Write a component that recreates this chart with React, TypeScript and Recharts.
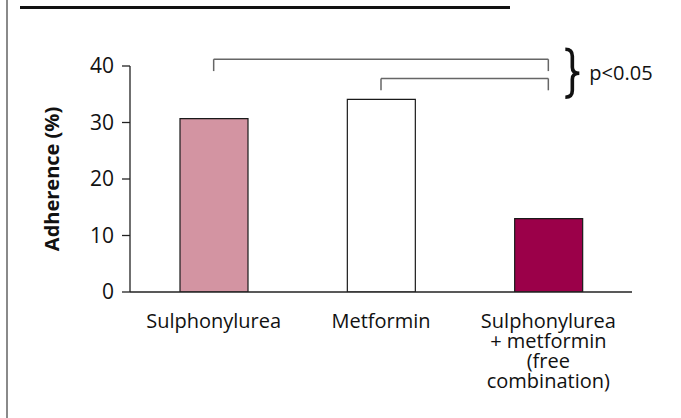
import { Bar, BarChart, Cell, Label, ReferenceLine, XAxis, YAxis } from "recharts";

const categories = ["Sulphonylurea", "Metformin", "Sulphonylurea + metformin (free combination)"];
const tickLines = [["Sulphonylurea"], ["Metformin"], ["Sulphonylurea", "+ metformin", "(free", "combination)"]];
const adherence = [30.7, 34.1, 13.0];
const barColors = ["#d394a2", "#ffffff", "#9b0049"];
const yTicks = [0, 10, 20, 30, 40];

// significance brackets: from/to category index, bar level and leg end (in % units)
const brackets = [
  { from: 0, to: 2, level: 41.2, leg: 39.1 },
  { from: 1, to: 2, level: 37.8, leg: 35.7 },
];
const pLabel = "p<0.05";

const FONT = "'Open Sans', 'DejaVu Sans', sans-serif";

const data = categories.map((name, i) => ({ name, value: adherence[i], idx: i }));

function CategoryTick(props: any) {
  const { x, y, payload } = props;
  const lines = tickLines[payload.index] ?? [payload.value];
  return (
    <text x={x} y={y + 36} textAnchor="middle" fill="#111" fontSize={20} fontFamily={FONT}>
      {lines.map((ln, i) => (
        <tspan key={i} x={x} dy={i === 0 ? 0 : 20}>
          {ln}
        </tspan>
      ))}
    </text>
  );
}

function BraceLabel(props: any) {
  const vb = props.viewBox ?? {};
  const right = (vb.x ?? 0) + (vb.width ?? 0);
  const top = vb.y ?? 0;
  const bx = right + 17;
  const my = top + 14;
  return (
    <g>
      <path
        d={`M ${bx} ${my - 24} Q ${bx + 7} ${my - 24} ${bx + 7} ${my - 17} L ${bx + 7} ${my - 6} Q ${bx + 7} ${my} ${bx + 14} ${my} Q ${bx + 7} ${my} ${bx + 7} ${my + 6} L ${bx + 7} ${my + 17} Q ${bx + 7} ${my + 24} ${bx} ${my + 24}`}
        fill="none"
        stroke="#111"
        strokeWidth={3.6}
      />
      <text x={bx + 24} y={my + 7} fontSize={20} fontFamily={FONT} fill="#111">
        {pLabel}
      </text>
    </g>
  );
}

export default function App() {
  return (
    <div style={{ position: "absolute", left: 0, top: 0, width: 681, height: 418, background: "#fff" }}>
      <div style={{ position: "absolute", left: 6, top: 0, width: 2, height: 418, background: "#8a8a8a" }} />
      <div style={{ position: "absolute", left: 20, top: 6, width: 490, height: 3, background: "#111" }} />
      <BarChart
        width={681}
        height={418}
        data={data}
        margin={{ top: 66, right: 49, left: 0, bottom: 0 }}
        style={{ position: "absolute", left: 0, top: 0 }}
      >
        <XAxis
          dataKey="name"
          height={126}
          tickLine={false}
          tickSize={0}
          tickMargin={0}
          axisLine={{ stroke: "#222", strokeWidth: 1.3 }}
          tick={<CategoryTick />}
          interval={0}
        />
        <YAxis
          width={130}
          domain={[0, 40]}
          ticks={yTicks}
          tickSize={8}
          tickMargin={8}
          axisLine={{ stroke: "#222", strokeWidth: 1.3 }}
          tickLine={{ stroke: "#222", strokeWidth: 1.3 }}
          tick={{ fill: "#111", fontSize: 21, fontFamily: FONT }}
          allowDataOverflow
        >
          <Label
            value="Adherence (%)"
            angle={-90}
            position="center"
            dx={-13}
            style={{ fontSize: 20, fontWeight: 700, fontFamily: FONT, fill: "#111" }}
          />
        </YAxis>
        <Bar dataKey="value" barSize={68} stroke="#1a1a1a" strokeWidth={1.2} isAnimationActive={false}>
          {data.map((d) => (
            <Cell key={d.name} fill={barColors[d.idx]} />
          ))}
        </Bar>
        {brackets.map((b, i) => [
          <ReferenceLine
            key={`h${i}`}
            segment={[
              { x: categories[b.from], y: b.level },
              { x: categories[b.to], y: b.level },
            ]}
            stroke="#666"
            strokeWidth={1.5}
            ifOverflow="visible"
          >
            {i === 0 ? <Label content={<BraceLabel />} /> : null}
          </ReferenceLine>,
          <ReferenceLine
            key={`l${i}`}
            segment={[
              { x: categories[b.from], y: b.level },
              { x: categories[b.from], y: b.leg },
            ]}
            stroke="#666"
            strokeWidth={1.5}
            ifOverflow="visible"
          />,
          <ReferenceLine
            key={`r${i}`}
            segment={[
              { x: categories[b.to], y: b.level },
              { x: categories[b.to], y: b.leg },
            ]}
            stroke="#666"
            strokeWidth={1.5}
            ifOverflow="visible"
          />,
        ])}
      </BarChart>
    </div>
  );
}
